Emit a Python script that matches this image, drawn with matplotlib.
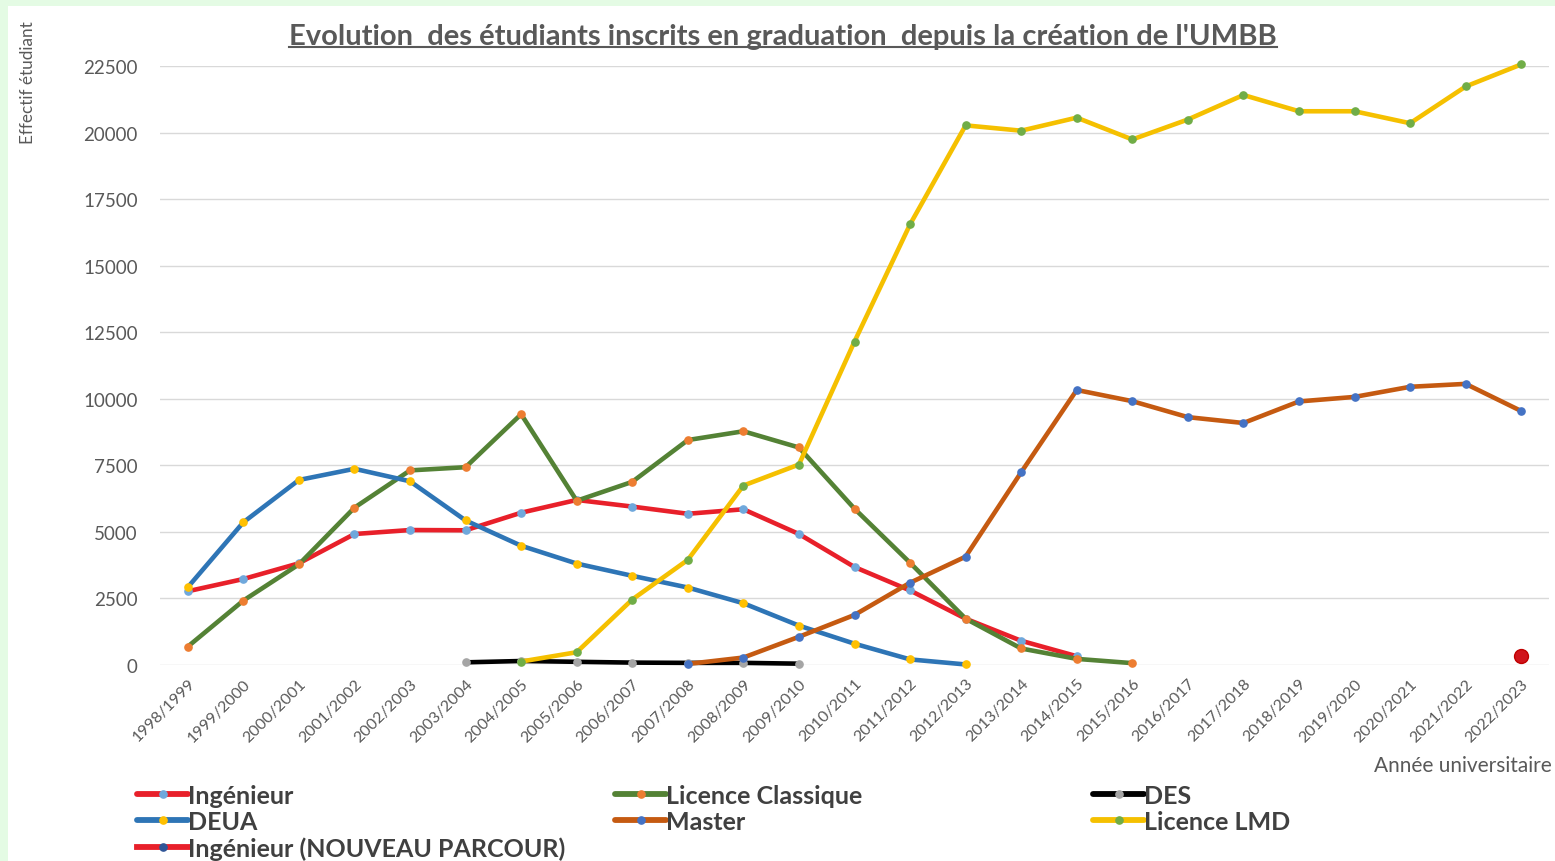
import matplotlib
matplotlib.use("Agg")
import matplotlib.pyplot as plt
from matplotlib.lines import Line2D
from matplotlib.patches import Rectangle
import numpy as np

years = ["1998/1999", "1999/2000", "2000/2001", "2001/2002", "2002/2003", "2003/2004",
         "2004/2005", "2005/2006", "2006/2007", "2007/2008", "2008/2009", "2009/2010",
         "2010/2011", "2011/2012", "2012/2013", "2013/2014", "2014/2015", "2015/2016",
         "2016/2017", "2017/2018", "2018/2019", "2019/2020", "2020/2021", "2021/2022",
         "2022/2023"]
N = np.nan
ingenieur = [2770, 3230, 3820, 4920, 5070, 5060, 5720, 6200, 5950, 5680, 5850, 4920,
             3680, 2800, 1740, 910, 330, N, N, N, N, N, N, N, N]
licence_classique = [690, 2420, 3780, 5910, 7310, 7430, 9420, 6170, 6880, 8450, 8780, 8170,
                     5870, 3840, 1740, 620, 230, 70, N, N, N, N, N, N, N]
des = [N, N, N, N, N, 100, 150, 120, 90, 80, 80, 50, N, N, N, N, N, N, N, N, N, N, N, N, N]
deua = [2920, 5360, 6950, 7370, 6900, 5430, 4480, 3810, 3350, 2910, 2320, 1480,
        800, 210, 20, N, N, N, N, N, N, N, N, N, N]
master = [N, N, N, N, N, N, N, N, N, 40, 280, 1060, 1880, 3090, 4070, 7240, 10330, 9910,
          9310, 9090, 9900, 10070, 10450, 10560, 9540]
licence_lmd = [N, N, N, N, N, N, 130, 480, 2460, 3950, 6740, 7530, 12150, 16550, 20270,
               20070, 20560, 19740, 20490, 21410, 20800, 20800, 20350, 21730, 22560]
ing_nouveau = [N] * 24 + [330]

fig = plt.figure(figsize=(15.55, 8.62), dpi=100)
fig.patch.set_facecolor("#e4fbe4")
fig.patches.append(Rectangle((8 / 1555, 0), 1 - 8 / 1555, 1 - 7 / 862, transform=fig.transFigure,
                             facecolor="white", edgecolor="none", zorder=-5))

ax = fig.add_axes([160 / 1555, 1 - 666 / 862, 1389 / 1555, 599 / 862])
ax.set_facecolor("none")
ax.set_zorder(2)
x = np.arange(len(years))

lw = 3.3
ms = 5.2
series = [
    ("Ingénieur", ingenieur, "#e8202a", "#6fa8dc"),
    ("Licence Classique", licence_classique, "#548235", "#ed7d31"),
    ("DES", des, "#000000", "#a5a5a5"),
    ("DEUA", deua, "#2e75b6", "#ffc000"),
    ("Master", master, "#c55a11", "#4472c4"),
    ("Licence LMD", licence_lmd, "#f5c000", "#70ad47"),
]
handles = {}
for name, vals, lc, mc in series:
    h, = ax.plot(x, vals, color=lc, lw=lw, marker="o", ms=ms, mfc=mc, mec=mc,
                 clip_on=False, solid_capstyle="round")
    handles[name] = h
ax.plot(x, ing_nouveau, color="#e8202a", lw=0, marker="o", ms=10, mfc="#d0141c",
        mec="#c00000", clip_on=False)
handles["Ingénieur (NOUVEAU PARCOUR)"] = Line2D([], [], color="#e8202a", lw=lw, marker="o",
                                               ms=ms, mfc="#2f5597", mec="#2f5597")

ax.set_xlim(-0.5, len(years) - 0.5)
ax.set_ylim(0, 22500)
ax.set_yticks(np.arange(0, 22501, 2500))
ax.yaxis.grid(True, color="#d9d9d9", lw=1)
ax.set_axisbelow(True)
for s in ax.spines.values():
    s.set_visible(False)
ax.tick_params(axis="both", length=0)
ax.tick_params(axis="y", labelsize=13.5, labelcolor="#595959", pad=16)
ax.set_xticks(x)
ax.set_xticklabels(years, rotation=45, ha="right", rotation_mode="anchor",
                   fontsize=11.5, color="#595959")
ax.tick_params(axis="x", pad=8)
for lab in ax.get_yticklabels() + ax.get_xticklabels():
    lab.set_fontfamily("Lato")

# title (underlined)
title = fig.text(783 / 1555, 1 - 37 / 862, "Evolution  des étudiants inscrits en graduation  depuis la création de l'UMBB",
                 ha="center", va="center", fontsize=21, fontweight="bold", color="#595959",
                 family="Lato")
fig.text(28 / 1555, 1 - 83 / 862, "Effectif étudiant", rotation=90, ha="center", va="center",
         fontsize=12.3, color="#595959", family="Lato")
fig.text(1552 / 1555, 1 - 766 / 862, "Année universitaire", ha="right", va="center",
         fontsize=15, color="#595959", family="Lato")

cols = [(137, ["Ingénieur", "DEUA", "Ingénieur (NOUVEAU PARCOUR)"]),
        (615, ["Licence Classique", "Master"]),
        (1093, ["DES", "Licence LMD"])]
for cx, names in cols:
    leg = fig.legend([handles[n] for n in names], names, loc="upper left",
                     bbox_to_anchor=(cx / 1555, 1 - 785 / 862), frameon=False,
                     handlelength=2.05, handletextpad=0.0, borderaxespad=0, borderpad=0,
                     labelspacing=0.12, prop={"family": "Lato", "size": 18, "weight": "bold"},
                     labelcolor="#404040")
    for ln in leg.get_lines():
        ln.set_linewidth(4.2)

fig.canvas.draw()
bb = title.get_window_extent().transformed(fig.transFigure.inverted())
fig.add_artist(Line2D([bb.x0, bb.x1], [bb.y0 + 0.002, bb.y0 + 0.002], transform=fig.transFigure,
                      color="#595959", lw=1.5))

fig.savefig("out.png", dpi=100, facecolor=fig.get_facecolor())
